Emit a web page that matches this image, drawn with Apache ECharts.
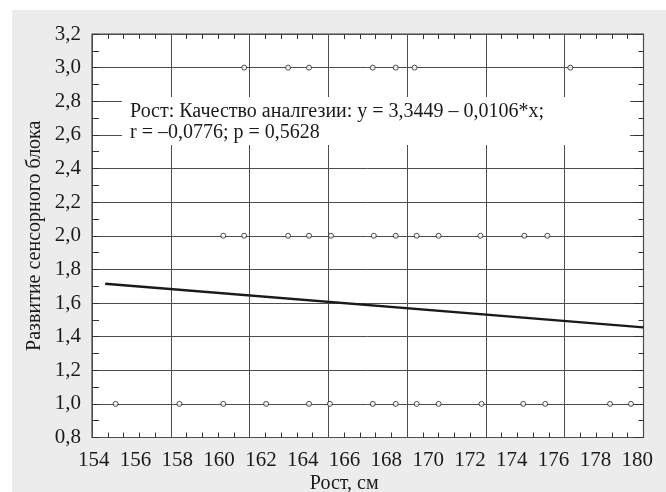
<!DOCTYPE html>
<html>
<head>
<meta charset="utf-8">
<script src="https://cdn.jsdelivr.net/npm/echarts@6/dist/echarts.min.js"></script>
<style>
  html, body { margin: 0; padding: 0; background: #fff; }
  #chart {
    width: 666px; height: 492px;
    background: linear-gradient(#fff 10px, transparent 10px),
                linear-gradient(to right, #fff 12px, #ececec 12px);
  }
</style>
</head>
<body>
<div id="chart"></div>
<script>
// значения
var xTickLabels = [154, 156, 158, 160, 162, 164, 166, 168, 170, 172, 174, 176, 178, 180];
var level3 = [161.2, 163.3, 164.3, 167.35, 168.45, 169.35, 176.8];
var level2 = [160.2, 161.2, 163.3, 164.3, 165.35, 167.4, 168.45, 169.45, 170.5, 172.5, 174.6, 175.7];
var level1 = [155.05, 158.1, 160.2, 162.25, 164.3, 165.3, 167.35, 168.45, 169.45, 170.5, 172.55, 174.55, 175.6, 178.7, 179.7];
var regressionX = [154.55, 180.3];
var regressionY = [1.714, 1.455];
var xMin = 153.92, xMax = 180.3;
var yMin = 0.8, yMax = 3.2, yStep = 0.2;

var font = '"Liberation Serif", "DejaVu Serif", serif';

function pts(xs, y) {
  return xs.map(function (x) { return [x, y]; });
}
var points = [].concat(pts(level3, 3.0), pts(level2, 2.0), pts(level1, 1.0));
var regLine = regressionX.map(function (x, i) { return [x, regressionY[i]]; });

var chart = echarts.init(document.getElementById('chart'));
var lineColor = '#4d4d4d';

// оси без подписей, только для сетки и засечек внутрь
function frameX(pos, split) {
  return {
    type: 'value', min: 0, max: 7, interval: 1, position: pos,
    axisLine: { show: false }, axisLabel: { show: false },
    axisTick: { show: true, inside: true, length: 5, lineStyle: { color: lineColor } },
    minorTick: { show: true, splitNumber: 5, length: 5, lineStyle: { color: '#333' } },
    splitLine: { show: split, lineStyle: { color: lineColor, width: 1 } }
  };
}
function frameY(pos, major, minor, split) {
  return {
    type: 'value', min: yMin, max: yMax, interval: yStep, position: pos,
    axisLine: { show: false }, axisLabel: { show: false },
    axisTick: { show: true, inside: true, length: major, lineStyle: { color: '#333' } },
    minorTick: { show: true, splitNumber: 2, length: minor, lineStyle: { color: '#333' } },
    splitLine: { show: split, lineStyle: { color: lineColor, width: 1 } }
  };
}

chart.setOption({
  animation: false,
  backgroundColor: 'transparent',
  grid: {
    left: 92, top: 34, width: 551.5, height: 403.5,
    outerBoundsMode: 'none', containLabel: false,
    show: true, backgroundColor: '#fff', borderColor: '#444', borderWidth: 1.2
  },
  xAxis: [
    {
      // ось с данными и подписями
      type: 'value', min: xMin, max: xMax, position: 'bottom',
      axisLine: { show: false }, axisTick: { show: false }, splitLine: { show: false },
      axisLabel: {
        customValues: xTickLabels, margin: 12,
        fontFamily: font, fontSize: 21, color: '#1a1a1a'
      },
      name: 'Рост, см', nameLocation: 'middle', nameGap: 36, nameMoveOverlap: false,
      nameTextStyle: { fontFamily: font, fontSize: 20, color: '#1a1a1a', padding: [0, 47, 0, 0] }
    },
    frameX('bottom', true),
    frameX('top', false)
  ],
  yAxis: [
    {
      type: 'value', min: yMin, max: yMax, interval: yStep, position: 'left',
      axisLine: { show: false }, axisTick: { show: false }, splitLine: { show: false },
      axisLabel: {
        margin: 11, fontFamily: font, fontSize: 21, color: '#1a1a1a',
        formatter: function (v) { return v.toFixed(1).replace('.', ','); }
      },
      name: 'Развитие сенсорного блока', nameLocation: 'middle', nameGap: 47, nameMoveOverlap: false,
      nameTextStyle: { fontFamily: font, fontSize: 20, color: '#1a1a1a' }
    },
    frameY('left', 7, 7, true),
    frameY('right', 10, 5, false)
  ],
  graphic: [
    {
      type: 'rect', left: 122, top: 97, z: 50,
      shape: { width: 508, height: 48 },
      style: { fill: '#fff' }
    },
    {
      type: 'text', left: 130, top: 101, z: 51,
      style: {
        text: 'Рост: Качество аналгезии: y = 3,3449 – 0,0106*x;\nr = –0,0776; p = 0,5628',
        font: '20px ' + font, fill: '#1a1a1a', lineHeight: 21
      }
    }
  ],
  series: [
    {
      type: 'line', data: regLine, xAxisIndex: 0, yAxisIndex: 0,
      showSymbol: false, clip: false,
      lineStyle: { color: '#1a1a1a', width: 2.5 }, z: 3
    },
    {
      type: 'scatter', data: points, xAxisIndex: 0, yAxisIndex: 0,
      symbol: 'circle', symbolSize: 5,
      itemStyle: { color: '#fff', borderColor: '#222', borderWidth: 1 }, z: 4
    }
  ]
});
</script>
</body>
</html>
